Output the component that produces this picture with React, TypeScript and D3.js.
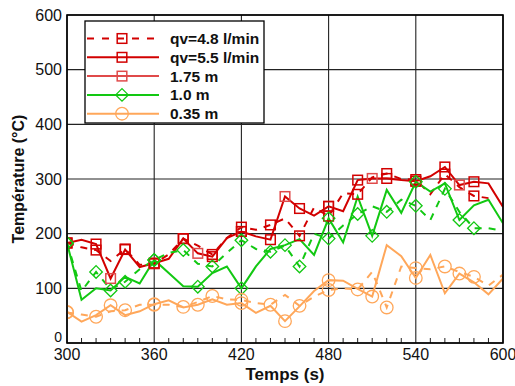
import React from 'react';
import * as d3 from 'd3';

const times = [300, 310, 320, 330, 340, 350, 360, 370, 380, 390, 400, 410, 420, 430, 440, 450, 460, 470, 480, 490, 500, 510, 520, 530, 540, 550, 560, 570, 580, 590, 600];

const redDashed = [183, 175, 170, 150, 172, 143, 145, 162, 191, 178, 162, 192, 212, 207, 216, 228, 196, 248, 232, 274, 272, 303, 310, 300, 299, 272, 309, 285, 269, 265, null];
const redSolid = [183, 189, 181, 118, 171, 139, 146, 154, 191, 164, 158, 192, 204, 195, 189, 268, 246, 233, 250, 241, 298, 301, 301, 298, 296, 305, 322, 289, 295, 292, 249];
const greenDashed = [183, 95, 130, 98, 112, 135, 152, 165, 170, 145, 140, 165, 188, 172, 167, 178, 140, 200, 191, 215, 236, 250, 240, 262, 251, 225, 282, 240, 210, 210, 205];
const greenSolid = [183, 79, 100, 96, 121, 109, 152, 128, 104, 103, 128, 140, 100, 140, 172, 179, 190, 161, 228, 184, 268, 196, 280, 238, 295, 277, 292, 225, 252, 262, 219];
const orangeDashed = [56, 52, 48, 58, 60, 70, 70, 70, 66, 75, 86, 80, 79, 73, 70, 88, 68, 85, 97, 100, 98, 130, 65, 140, 137, 135, 140, 130, 121, 105, 125];
const orangeSolid = [57, 39, 51, 69, 51, 58, 71, 78, 65, 70, 80, 70, 73, 55, 68, 40, 67, 95, 115, 114, 99, 85, 179, 159, 119, 161, 91, 127, 111, 89, 118];

const marks20 = [300, 320, 340, 360, 380, 400, 420, 440, 460, 480, 500, 520, 540, 560, 580];
const marks30 = [300, 330, 360, 390, 420, 450, 480, 510, 540, 570];

const xTicks = [300, 360, 420, 480, 540, 600];
const xMinor = [310, 320, 330, 340, 350, 370, 380, 390, 400, 410, 430, 440, 450, 460, 470, 490, 500, 510, 520, 530, 550, 560, 570, 580, 590];
const yTicks = [0, 100, 200, 300, 400, 500, 600];

const legendLabels = ['qv=4.8 l/min', 'qv=5.5 l/min', '1.75 m', '1.0 m', '0.35 m'];

const RED = '#d20000';
const PINK = '#e04a4a';
const GREEN = '#12c812';
const ORANGE = '#ffa75a';
const FONT = '"Liberation Sans", Arial, sans-serif';

type Shape = 'square' | 'diamond' | 'circle';

function Marker({ shape, x, y, color }: { shape: Shape; x: number; y: number; color: string }) {
  if (shape === 'square') {
    return <rect x={x - 4.8} y={y - 4.8} width={9.6} height={9.6} fill="none" stroke={color} strokeWidth={1.5} />;
  }
  if (shape === 'diamond') {
    const r = 6.3;
    return <path d={`M${x},${y - r}L${x + r},${y}L${x},${y + r}L${x - r},${y}Z`} fill="none" stroke={color} strokeWidth={1.3} />;
  }
  return <circle cx={x} cy={y} r={6.3} fill="none" stroke={color} strokeWidth={1.3} />;
}

export default function App() {
  const W = 515, H = 386;
  const x0 = 67, x1 = 503, y0 = 343, y1 = 15;
  const x = d3.scaleLinear().domain([300, 600]).range([x0, x1]);
  const y = d3.scaleLinear().domain([0, 600]).range([y0, y1]);

  const line = d3.line<number | null>()
    .defined((d) => d != null)
    .x((_, i) => x(times[i]))
    .y((d) => y(d as number));

  const series = [
    { values: redDashed, color: RED, dash: '7,7', shape: 'square' as Shape, marks: marks20, markColor: RED },
    { values: redSolid, color: RED, dash: undefined, shape: 'square' as Shape, marks: marks30, markColor: PINK },
    { values: redSolid, color: RED, dash: undefined, shape: 'square' as Shape, marks: marks20, markColor: RED, noLine: true },
    { values: greenDashed, color: GREEN, dash: '7,7', shape: 'diamond' as Shape, marks: marks20, markColor: GREEN },
    { values: greenSolid, color: GREEN, dash: undefined, shape: 'diamond' as Shape, marks: marks30, markColor: GREEN },
    { values: orangeDashed, color: ORANGE, dash: '7,7', shape: 'circle' as Shape, marks: marks20, markColor: ORANGE },
    { values: orangeSolid, color: ORANGE, dash: undefined, shape: 'circle' as Shape, marks: marks30, markColor: ORANGE },
  ];

  const legendStyles = [
    { color: RED, dash: '7,8', shape: 'square' as Shape, mcolor: RED },
    { color: RED, dash: undefined, shape: 'square' as Shape, mcolor: RED },
    { color: PINK, dash: undefined, shape: 'square' as Shape, mcolor: PINK },
    { color: GREEN, dash: undefined, shape: 'diamond' as Shape, mcolor: GREEN },
    { color: ORANGE, dash: undefined, shape: 'circle' as Shape, mcolor: ORANGE },
  ];

  const lgX = 85, lgY = 21, lgW = 179, lgH = 102;

  return (
    <svg width={W} height={H} style={{ position: 'absolute', left: 0, top: 0, background: '#fff' }} fontFamily={FONT}>
      <defs>
        <clipPath id="plot">
          <rect x={x0} y={y1} width={x1 - x0} height={y0 - y1} />
        </clipPath>
      </defs>
      <rect x={0} y={0} width={W} height={H} fill="#fff" />
      {/* grid */}
      {xTicks.map((t) => (
        <line key={'gx' + t} x1={x(t)} x2={x(t)} y1={y1} y2={y0} stroke="#222" strokeWidth={1.1} />
      ))}
      {yTicks.map((t) => (
        <line key={'gy' + t} x1={x0} x2={x1} y1={y(t)} y2={y(t)} stroke="#222" strokeWidth={1.1} />
      ))}
      {xMinor.map((t) => (
        <line key={'mx' + t} x1={x(t)} x2={x(t)} y1={y0} y2={y0 - 5} stroke="#222" strokeWidth={1} />
      ))}
      {/* series */}
      <g clipPath="url(#plot)">
        {series.map((s, si) =>
          s.noLine ? null : (
            <path key={'l' + si} d={line(s.values) || ''} fill="none" stroke={s.color} strokeWidth={2} strokeDasharray={s.dash} strokeLinejoin="miter" />
          )
        )}
        {series.map((s, si) =>
          s.marks.map((t) => {
            const i = times.indexOf(t);
            const v = s.values[i];
            if (v == null) return null;
            return <Marker key={'m' + si + '-' + t} shape={s.shape} x={x(t)} y={y(v)} color={s.markColor} />;
          })
        )}
      </g>
      {/* frame */}
      <rect x={x0} y={y1} width={x1 - x0} height={y0 - y1} fill="none" stroke="#000" strokeWidth={1.6} />
      {/* tick labels */}
      {yTicks.map((t) => (
        <text key={'ty' + t} x={62} y={t === 0 ? y(t) - 1 : y(t) + 5.5} textAnchor="end" fontSize={t === 0 ? 14 : 16} fill="#111">{t}</text>
      ))}
      {xTicks.map((t) => (
        <text key={'tx' + t} x={x(t)} y={360} textAnchor="middle" fontSize={16} fill="#111">{t}</text>
      ))}
      <text x={(x0 + x1) / 2} y={380} textAnchor="middle" fontSize={17} fontWeight="bold" fill="#111">Temps (s)</text>
      <text transform={`translate(24,${(y0 + y1) / 2}) rotate(-90)`} textAnchor="middle" fontSize={16} fontWeight="bold" fill="#111">Température (°C)</text>
      {/* legend */}
      <rect x={lgX} y={lgY} width={lgW} height={lgH} fill="#fff" stroke="#000" strokeWidth={1.3} />
      {legendLabels.map((lab, i) => {
        const st = legendStyles[i];
        const cy = 38.5 + i * 18.8;
        return (
          <g key={'lg' + i}>
            <line x1={87} x2={159} y1={cy} y2={cy} stroke={st.color} strokeWidth={2} strokeDasharray={st.dash} />
            <Marker shape={st.shape} x={122} y={cy} color={st.mcolor} />
            <text x={170} y={cy + 5.5} fontSize={15.5} fontWeight="bold" fill="#111">{lab}</text>
          </g>
        );
      })}
    </svg>
  );
}
